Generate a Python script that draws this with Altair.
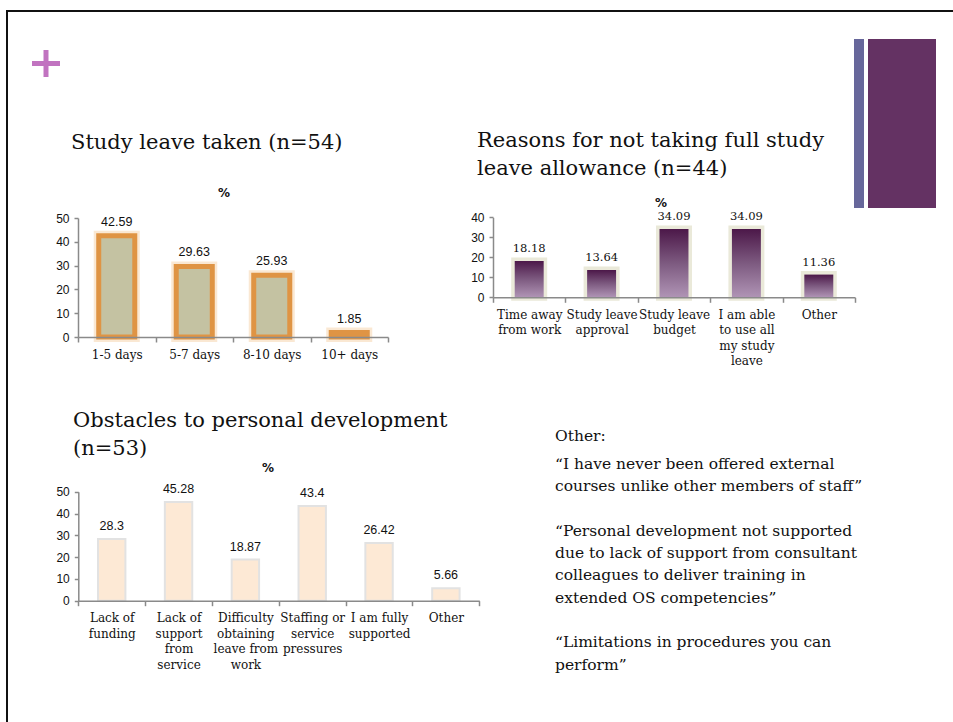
import altair as alt
import pandas as pd

# ---------------- data ----------------
c1_cats = ["1-5 days", "5-7 days", "8-10 days", "10+ days"]
c1_vals = [42.59, 29.63, 25.93, 1.85]
c1_labels = ["42.59", "29.63", "25.93", "1.85"]

c2_cats = ["Time away\nfrom work", "Study leave\napproval", "Study leave\nbudget",
           "I am able\nto use all\nmy study\nleave", "Other"]
c2_vals = [18.18, 13.64, 34.09, 34.09, 11.36]
c2_labels = ["18.18", "13.64", "34.09", "34.09", "11.36"]

c3_cats = ["Lack of\nfunding", "Lack of\nsupport\nfrom\nservice",
           "Difficulty\nobtaining\nleave from\nwork", "Staffing or\nservice\npressures",
           "I am fully\nsupported", "Other"]
c3_vals = [28.3, 45.28, 18.87, 43.4, 26.42, 5.66]
c3_labels = ["28.3", "45.28", "18.87", "43.4", "26.42", "5.66"]

title1 = "Study leave taken (n=54)"
title2 = ["Reasons for not taking full study", "leave allowance (n=44)"]
title3 = ["Obstacles to personal development", "(n=53)"]
other_head = "Other:"
quote1 = ["\u201cI have never been offered external",
          "courses unlike other members of staff\u201d"]
quote2 = ["\u201cPersonal development not supported",
          "due to lack of support from consultant",
          "colleagues to deliver training in",
          "extended OS competencies\u201d"]
quote3 = ["\u201cLimitations in procedures you can",
          "perform\u201d"]

W, H = 953, 722
SERIF = "DejaVu Serif"
SANS = "Liberation Sans"
AX = "#8a8a8a"
LH = 22.3
dummy = pd.DataFrame({"k": [0]})


def bar_panel(cats, vals, labs, xr, yr, ymax, tick_vals, layers_fn, val_font, val_size, val_dy):
    df = pd.DataFrame({"cat": cats, "val": vals, "lab": labs})
    x = alt.X(
        "cat:N", sort=cats,
        scale=alt.Scale(type="band", range=xr, paddingInner=0, paddingOuter=0),
        axis=alt.Axis(
            orient="bottom", offset=yr[0] - H, title=None, labelAngle=0,
            domainColor=AX, domainWidth=1.5, tickColor=AX, tickWidth=1.5, tickSize=5,
            tickBand="extent", labelFont=SERIF, labelFontSize=12, labelColor="#111",
            labelPadding=7, labelLineHeight=15.5, labelOverlap=False,
            labelExpr="split(datum.label, '\\n')", zindex=1,
        ),
    )
    y = alt.Y(
        "val:Q",
        scale=alt.Scale(domain=[0, ymax], range=yr, nice=False, zero=True),
        axis=alt.Axis(
            orient="left", offset=-xr[0], title=None, grid=False, values=tick_vals,
            domainColor=AX, domainWidth=1.5, tickColor=AX, tickWidth=1.5, tickSize=4,
            labelFont=SANS, labelFontSize=12, labelColor="#111", labelPadding=5, zindex=1,
        ),
    )
    base = alt.Chart(df).encode(x=x, y=y)
    layers = layers_fn(base)
    txt = base.mark_text(font=val_font, fontSize=val_size, color="#111",
                         baseline="alphabetic", dy=val_dy).encode(text="lab:N")
    return alt.layer(*layers, txt)


def layers1(base):
    glow = base.mark_bar(width=alt.RelativeBandSize(0.465), fillOpacity=0,
                         stroke="#f3cc9d", strokeWidth=10, strokeOpacity=0.45)
    main = base.mark_bar(width=alt.RelativeBandSize(0.465), fill="#c4c2a2",
                         stroke="#df9444", strokeWidth=5)
    return [glow, main]


def layers2(base):
    glow = base.mark_bar(width=alt.RelativeBandSize(0.40), fillOpacity=0,
                         stroke="#dcdbc0", strokeWidth=7, strokeOpacity=0.6)
    grad = alt.Gradient(
        gradient="linear",
        stops=[alt.GradientStop(color="#4c1849", offset=0),
               alt.GradientStop(color="#7d5a80", offset=0.5),
               alt.GradientStop(color="#b094b5", offset=1)],
        x1=0, x2=0, y1=0, y2=1,
    )
    main = base.mark_bar(width=alt.RelativeBandSize(0.40), fill=grad)
    return [glow, main]


def layers3(base):
    main = base.mark_bar(width=alt.RelativeBandSize(0.41), fill="#fde9d5",
                         stroke="#e2e2e2", strokeWidth=2)
    return [main]


p1 = bar_panel(c1_cats, c1_vals, c1_labels, [78, 388], [337, 218], 50,
               [0, 10, 20, 30, 40, 50], layers1, SANS, 12.5, -10)
p2 = bar_panel(c2_cats, c2_vals, c2_labels, [493, 855], [297.3, 217.3], 40,
               [0, 10, 20, 30, 40], layers2, SERIF, 11.5, -9)
p3 = bar_panel(c3_cats, c3_vals, c3_labels, [78.3, 479.3], [600.7, 491.7], 50,
               [0, 10, 20, 30, 40, 50], layers3, SANS, 12.5, -9)


def rect(x, x2, y, y2, color):
    return alt.Chart(dummy).mark_rect(color=color).encode(
        x=alt.value(x), x2=alt.value(x2), y=alt.value(y), y2=alt.value(y2))


def text(t, x, y, size, font=SERIF, weight="normal", align="left", lh=None):
    kw = dict(text=t, font=font, fontSize=size, fontWeight=weight, align=align,
              baseline="alphabetic", color="#111")
    if lh is not None:
        kw["lineHeight"] = lh
    return alt.Chart(dummy).mark_text(**kw).encode(x=alt.value(x), y=alt.value(y))


deco = [
    rect(6, W, 10, 12, "#111111"),
    rect(6, 8, 10, H, "#111111"),
    rect(32, 60, 61, 66, "#c173c0"),
    rect(43.5, 48.5, 50, 77, "#c173c0"),
    rect(854, 864, 39, 208, "#67679b"),
    rect(868, 936, 39, 208, "#643263"),
]

texts = [
    text(title1, 71, 149, 21),
    text(title2, 477, 147, 21, lh=28),
    text(title3, 73, 427, 21, lh=28),
    text("%", 224, 197, 12, font="DejaVu Sans", weight="bold", align="center"),
    text("%", 661, 207, 12, font="DejaVu Sans", weight="bold", align="center"),
    text("%", 268, 472, 12, font="DejaVu Sans", weight="bold", align="center"),
    text(other_head, 555, 441, 15.5),
    text(quote1, 555, 469, 15.5, lh=LH),
    text(quote2, 555, 469 + 3 * LH, 15.5, lh=LH),
    text(quote3, 555, 469 + 8 * LH, 15.5, lh=LH),
]

chart = alt.layer(*deco, p1, p2, p3, *texts).resolve_scale(
    x="independent", y="independent"
).properties(
    width=W, height=H, autosize=alt.AutoSizeParams(type="none"), padding=0,
    background="white",
).configure_view(stroke=None)

chart.save("out.html", embed_options={"renderer": "svg", "actions": False})
